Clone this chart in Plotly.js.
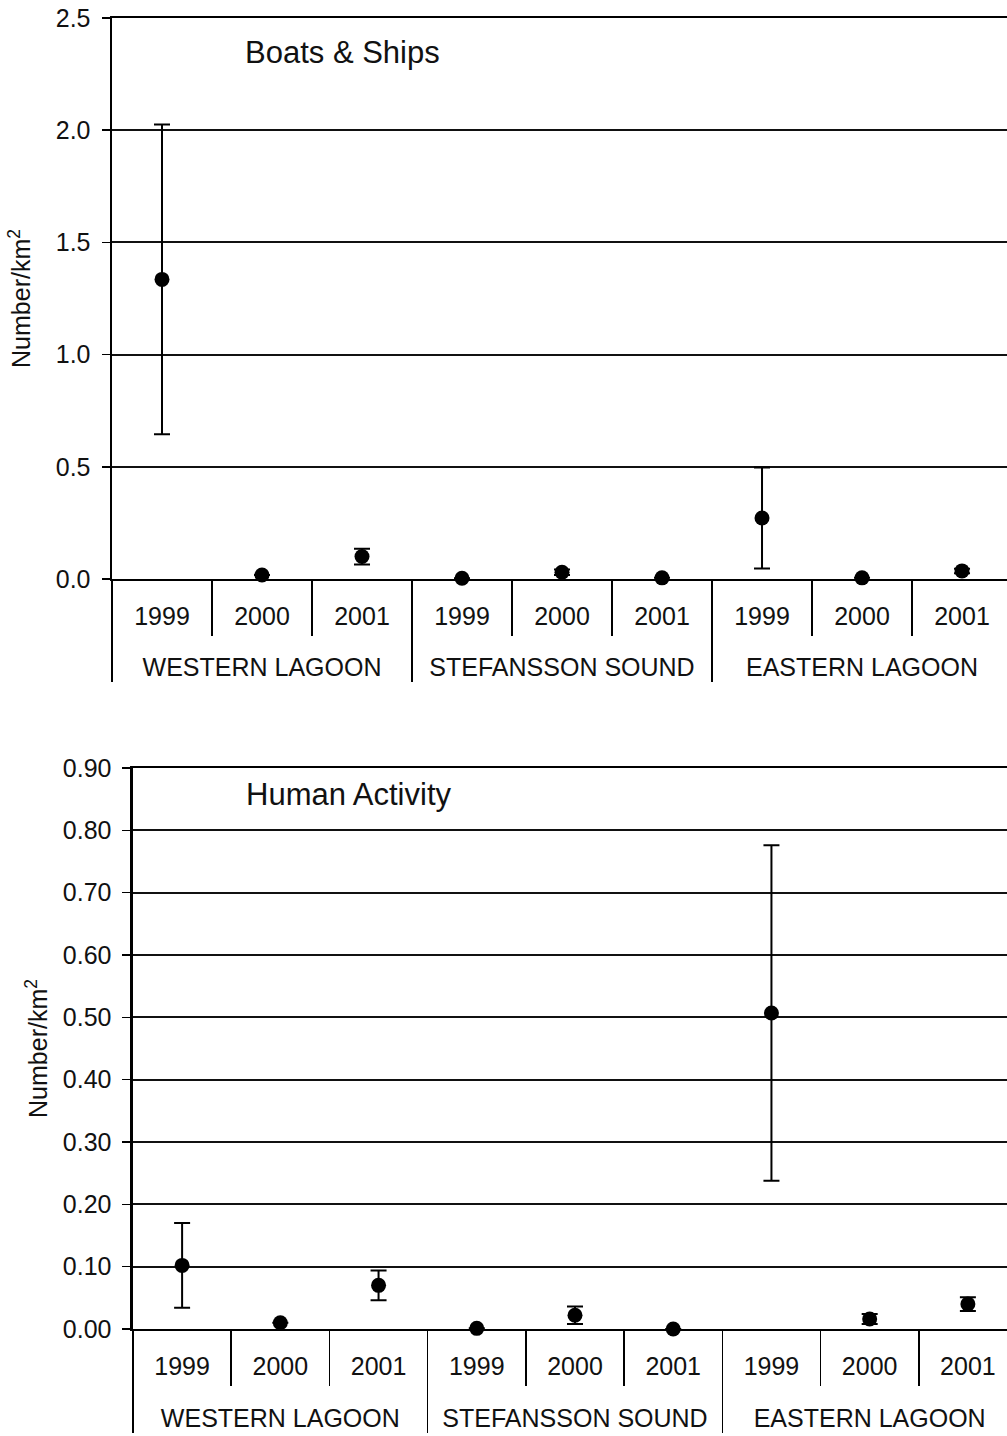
<!DOCTYPE html>
<html><head><meta charset="utf-8">
<script src="https://cdn.plot.ly/plotly-3.0.1.min.js"></script>
<style>html,body{margin:0;padding:0;overflow:hidden;background:#fff}</style>
</head><body><div id="chart" style="width:1020px;height:1436px"></div>
<script>
const regions = ["WESTERN LAGOON","WESTERN LAGOON","WESTERN LAGOON",
                 "STEFANSSON SOUND","STEFANSSON SOUND","STEFANSSON SOUND",
                 "EASTERN LAGOON","EASTERN LAGOON","EASTERN LAGOON"];
const years = ["1999","2000","2001","1999","2000","2001","1999","2000","2001"];

const boatsValue    = [1.335, 0.018, 0.100, 0.003, 0.030, 0.005, 0.272, 0.005, 0.036];
const boatsErrPlus  = [0.690, 0,     0.035, 0,     0.012, 0,     0.225, 0,     0.010];
const boatsErrMinus = [0.690, 0,     0.035, 0,     0.012, 0,     0.225, 0,     0.010];

const humanValue    = [0.102, 0.010, 0.070, 0.001, 0.022, 0.000, 0.507, 0.016, 0.040];
const humanErrPlus  = [0.068, 0,     0.024, 0,     0.014, 0,     0.269, 0.008, 0.011];
const humanErrMinus = [0.068, 0,     0.024, 0,     0.014, 0,     0.269, 0.008, 0.011];

const FONT = "Liberation Sans, Arial, sans-serif";

// year labels get an empty second line so the region row sits lower, as in the reference
const yearLabels = years.map(y => y + "<br><span style='font-size:38px'>\u00a0</span>");

function trace(vals, plus, minus, xa, ya) {
  return {
    type: "scatter", mode: "markers",
    x: [regions, yearLabels], y: vals,
    xaxis: xa, yaxis: ya, cliponaxis: false,
    marker: {size: 15, color: "#000"},
    error_y: {type: "data", symmetric: false, array: plus, arrayminus: minus,
              color: "#000", thickness: 2, width: 8}
  };
}

function xAxis(domain, anchor) {
  return {
    type: "multicategory", domain: domain, anchor: anchor, range: [-0.5, regions.length - 0.5],
    showline: true, linewidth: 2, linecolor: "#000", mirror: true,
    ticks: "outside", tickson: "boundaries", ticklen: 55, tickwidth: 1.5, tickcolor: "#000",
    showdividers: true, dividercolor: "#000", dividerwidth: 1.5,
    showgrid: false, zeroline: false,
    ticklabelstandoff: 14,
    tickfont: {family: FONT, size: 25, color: "#111"}
  };
}

function yAxis(domain, anchor, range, dtick, fmt, standoff) {
  return {
    domain: domain, anchor: anchor, range: range, dtick: dtick, tick0: 0, tickformat: fmt,
    ticks: "outside", ticklen: 8, tickwidth: 1.5, tickcolor: "#000",
    showline: true, linewidth: 2.5, linecolor: "#000", mirror: true,
    showgrid: true, gridcolor: "#111", gridwidth: 2, zeroline: false,
    ticklabelstandoff: 6,
    tickfont: {family: FONT, size: 25, color: "#111"},
    title: {text: "Number/km<sup>2</sup>", font: {family: FONT, size: 25, color: "#111"}, standoff: standoff}
  };
}

const data = [
  trace(boatsValue, boatsErrPlus, boatsErrMinus, "x", "y"),
  trace(humanValue, humanErrPlus, humanErrMinus, "x2", "y2")
];

const layout = {
  width: 1020, height: 1436,
  margin: {l: 112, r: 3, t: 18, b: 107},
  paper_bgcolor: "#fff", plot_bgcolor: "#fff",
  showlegend: false,
  font: {family: FONT, color: "#111"},
  xaxis: xAxis([0, 0.9945], "y"),
  yaxis: yAxis([0.5721, 1], "x", [0, 2.5], 0.5, ".1f", 18),
  xaxis2: xAxis([0.0232, 1], "y2"),
  yaxis2: yAxis([0, 0.4279], "x2", [0, 0.9], 0.1, ".2f", 8),
  annotations: [
    {text: "Boats & Ships", xref: "x domain", yref: "y domain", x: 0.145, y: 0.939,
     xanchor: "left", yanchor: "middle", showarrow: false,
     font: {family: FONT, size: 31, color: "#111"}},
    {text: "Human Activity", xref: "x2 domain", yref: "y2 domain", x: 0.126, y: 0.952,
     xanchor: "left", yanchor: "middle", showarrow: false,
     font: {family: FONT, size: 31, color: "#111"}}
  ]
};

Plotly.newPlot("chart", data, layout, {staticPlot: true});
</script>
</body></html>
